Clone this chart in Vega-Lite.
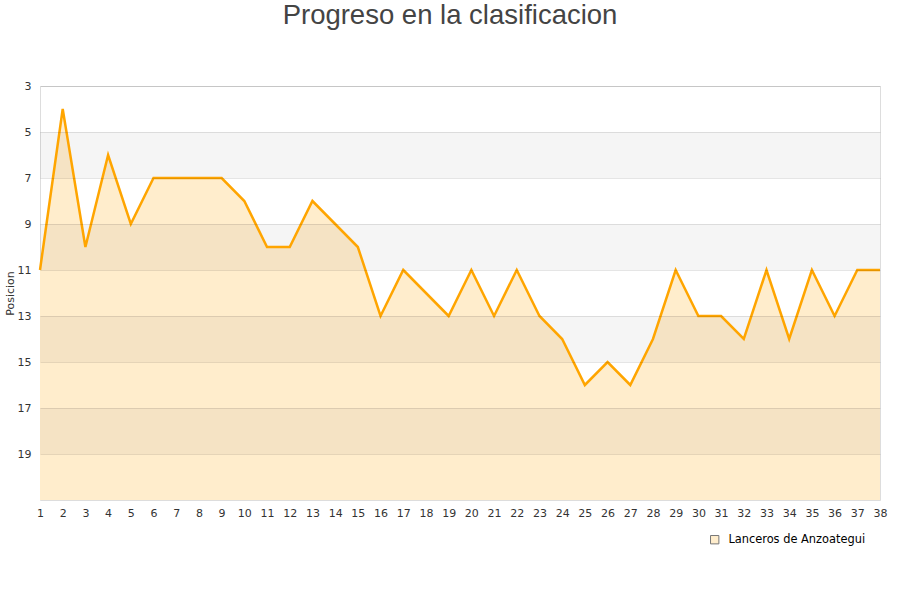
{
  "$schema": "https://vega.github.io/schema/vega-lite/v6.json",
  "width": 840,
  "height": 414,
  "autosize": "none",
  "padding": {"left": 40, "top": 86, "right": 20, "bottom": 100},
  "background": "white",
  "title": {
    "text": "Progreso en la clasificacion",
    "font": "Liberation Sans",
    "fontSize": 27.5,
    "fontWeight": "normal",
    "color": "#444444",
    "anchor": "middle",
    "baseline": "alphabetic",
    "frame": "group",
    "offset": 29,
    "dx": -10
  },
  "config": {
    "view": {"stroke": "#dddddd"},
    "axis": {
      "labelFont": "DejaVu Sans",
      "labelFontSize": 11,
      "labelColor": "#333333",
      "titleFont": "DejaVu Sans",
      "titleFontSize": 11,
      "titleFontWeight": "normal",
      "titleColor": "#333333",
      "ticks": false,
      "domain": false,
      "labelPadding": 9,
      "labelOverlap": false
    },
    "axisX": {"labelOverlap": false, "labelPadding": 7}
  },
  "datasets": {
    "progreso": [
      {"jornada": 1, "pos": 11, "equipo": "Lanceros de Anzoategui"},
      {"jornada": 2, "pos": 4, "equipo": "Lanceros de Anzoategui"},
      {"jornada": 3, "pos": 10, "equipo": "Lanceros de Anzoategui"},
      {"jornada": 4, "pos": 6, "equipo": "Lanceros de Anzoategui"},
      {"jornada": 5, "pos": 9, "equipo": "Lanceros de Anzoategui"},
      {"jornada": 6, "pos": 7, "equipo": "Lanceros de Anzoategui"},
      {"jornada": 7, "pos": 7, "equipo": "Lanceros de Anzoategui"},
      {"jornada": 8, "pos": 7, "equipo": "Lanceros de Anzoategui"},
      {"jornada": 9, "pos": 7, "equipo": "Lanceros de Anzoategui"},
      {"jornada": 10, "pos": 8, "equipo": "Lanceros de Anzoategui"},
      {"jornada": 11, "pos": 10, "equipo": "Lanceros de Anzoategui"},
      {"jornada": 12, "pos": 10, "equipo": "Lanceros de Anzoategui"},
      {"jornada": 13, "pos": 8, "equipo": "Lanceros de Anzoategui"},
      {"jornada": 14, "pos": 9, "equipo": "Lanceros de Anzoategui"},
      {"jornada": 15, "pos": 10, "equipo": "Lanceros de Anzoategui"},
      {"jornada": 16, "pos": 13, "equipo": "Lanceros de Anzoategui"},
      {"jornada": 17, "pos": 11, "equipo": "Lanceros de Anzoategui"},
      {"jornada": 18, "pos": 12, "equipo": "Lanceros de Anzoategui"},
      {"jornada": 19, "pos": 13, "equipo": "Lanceros de Anzoategui"},
      {"jornada": 20, "pos": 11, "equipo": "Lanceros de Anzoategui"},
      {"jornada": 21, "pos": 13, "equipo": "Lanceros de Anzoategui"},
      {"jornada": 22, "pos": 11, "equipo": "Lanceros de Anzoategui"},
      {"jornada": 23, "pos": 13, "equipo": "Lanceros de Anzoategui"},
      {"jornada": 24, "pos": 14, "equipo": "Lanceros de Anzoategui"},
      {"jornada": 25, "pos": 16, "equipo": "Lanceros de Anzoategui"},
      {"jornada": 26, "pos": 15, "equipo": "Lanceros de Anzoategui"},
      {"jornada": 27, "pos": 16, "equipo": "Lanceros de Anzoategui"},
      {"jornada": 28, "pos": 14, "equipo": "Lanceros de Anzoategui"},
      {"jornada": 29, "pos": 11, "equipo": "Lanceros de Anzoategui"},
      {"jornada": 30, "pos": 13, "equipo": "Lanceros de Anzoategui"},
      {"jornada": 31, "pos": 13, "equipo": "Lanceros de Anzoategui"},
      {"jornada": 32, "pos": 14, "equipo": "Lanceros de Anzoategui"},
      {"jornada": 33, "pos": 11, "equipo": "Lanceros de Anzoategui"},
      {"jornada": 34, "pos": 14, "equipo": "Lanceros de Anzoategui"},
      {"jornada": 35, "pos": 11, "equipo": "Lanceros de Anzoategui"},
      {"jornada": 36, "pos": 13, "equipo": "Lanceros de Anzoategui"},
      {"jornada": 37, "pos": 11, "equipo": "Lanceros de Anzoategui"},
      {"jornada": 38, "pos": 11, "equipo": "Lanceros de Anzoategui"}
    ],
    "bandas": [
      {"desde": 5, "hasta": 7},
      {"desde": 9, "hasta": 11},
      {"desde": 13, "hasta": 15},
      {"desde": 17, "hasta": 19}
    ]
  },
  "layer": [
    {
      "data": {"name": "progreso"},
      "mark": {"type": "area", "interpolate": "linear"},
      "encoding": {
        "x": {
          "field": "jornada",
          "type": "quantitative",
          "scale": {"domain": [1, 38], "nice": false, "zero": false},
          "axis": {
            "values": [1, 2, 3, 4, 5, 6, 7, 8, 9, 10, 11, 12, 13, 14, 15, 16, 17, 18, 19, 20, 21, 22, 23, 24, 25, 26, 27, 28, 29, 30, 31, 32, 33, 34, 35, 36, 37, 38],
            "title": null,
            "grid": false,
            "labelOverlap": false,
            "labelFlush": false
          }
        },
        "y": {
          "field": "pos",
          "type": "quantitative",
          "scale": {"domain": [3, 21], "nice": false, "zero": false, "reverse": true},
          "axis": {
            "values": [3, 5, 7, 9, 11, 13, 15, 17, 19],
            "title": "Posicion",
            "titlePadding": 2,
            "gridColor": "#000000",
            "gridOpacity": 0.1,
            "zindex": 1
          }
        },
        "y2": {"datum": 21},
        "color": {
          "field": "equipo",
          "type": "nominal",
          "scale": {"range": ["#ffedcc"]},
          "legend": {
            "title": null,
            "orient": "none",
            "legendX": 669,
            "legendY": 448,
            "symbolType": "square",
            "symbolSize": 70,
            "symbolStrokeColor": "#777777",
            "symbolStrokeWidth": 1,
            "labelOffset": 8,
            "labelFont": "DejaVu Sans",
            "labelFontSize": 11.4,
            "labelColor": "#000000"
          }
        }
      }
    },
    {
      "data": {"name": "bandas"},
      "mark": {"type": "rect", "color": "#000000", "opacity": 0.04},
      "encoding": {
        "x": {
          "datum": 1,
          "type": "quantitative",
          "axis": {
            "values": [1, 2, 3, 4, 5, 6, 7, 8, 9, 10, 11, 12, 13, 14, 15, 16, 17, 18, 19, 20, 21, 22, 23, 24, 25, 26, 27, 28, 29, 30, 31, 32, 33, 34, 35, 36, 37, 38],
            "title": null,
            "grid": false,
            "labelOverlap": false,
            "labelFlush": false
          }
        },
        "x2": {"datum": 38},
        "y": {"field": "desde", "type": "quantitative"},
        "y2": {"field": "hasta"}
      }
    },
    {
      "data": {"name": "progreso"},
      "mark": {"type": "line", "color": "#ffa500", "strokeWidth": 2.5},
      "encoding": {
        "x": {
          "field": "jornada",
          "type": "quantitative",
          "axis": {
            "values": [1, 2, 3, 4, 5, 6, 7, 8, 9, 10, 11, 12, 13, 14, 15, 16, 17, 18, 19, 20, 21, 22, 23, 24, 25, 26, 27, 28, 29, 30, 31, 32, 33, 34, 35, 36, 37, 38],
            "title": null,
            "grid": false,
            "labelOverlap": false,
            "labelFlush": false
          }
        },
        "y": {"field": "pos", "type": "quantitative"}
      }
    }
  ]
}
